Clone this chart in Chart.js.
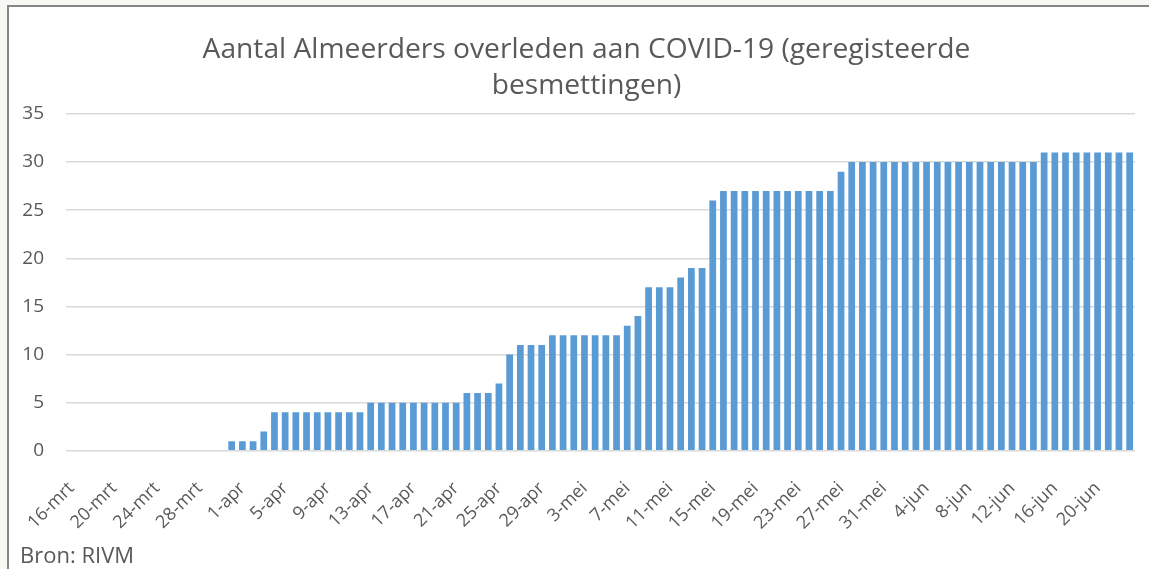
<!DOCTYPE html>
<html>
<head>
<meta charset="utf-8">
<script src="https://cdn.jsdelivr.net/npm/chart.js@4.4.1/dist/chart.umd.min.js"></script>
<style>
  html, body { margin: 0; padding: 0; background: #f7f8f4; overflow: hidden; }
  #frame {
    position: absolute; left: 7px; top: 5px; width: 1142px; height: 564px;
    border-top: 2px solid #848484; border-left: 2px solid #848484;
    background: #ffffff; overflow: hidden;
  }
  #chart { display: block; }
</style>
</head>
<body>
<div id="frame"><canvas id="chart" width="1158" height="562"></canvas></div>
<script>
// dates, one bar per day
const days = [
  '16-mrt','17-mrt','18-mrt','19-mrt','20-mrt','21-mrt','22-mrt','23-mrt','24-mrt','25-mrt','26-mrt','27-mrt','28-mrt','29-mrt','30-mrt','31-mrt',
  '1-apr','2-apr','3-apr','4-apr','5-apr','6-apr','7-apr','8-apr','9-apr','10-apr','11-apr','12-apr','13-apr','14-apr','15-apr',
  '16-apr','17-apr','18-apr','19-apr','20-apr','21-apr','22-apr','23-apr','24-apr','25-apr','26-apr','27-apr','28-apr','29-apr','30-apr',
  '1-mei','2-mei','3-mei','4-mei','5-mei','6-mei','7-mei','8-mei','9-mei','10-mei','11-mei','12-mei','13-mei','14-mei','15-mei','16-mei',
  '17-mei','18-mei','19-mei','20-mei','21-mei','22-mei','23-mei','24-mei','25-mei','26-mei','27-mei','28-mei','29-mei','30-mei','31-mei',
  '1-jun','2-jun','3-jun','4-jun','5-jun','6-jun','7-jun','8-jun','9-jun','10-jun','11-jun','12-jun','13-jun','14-jun','15-jun','16-jun',
  '17-jun','18-jun','19-jun','20-jun','21-jun','22-jun','23-jun'
];

// cumulative deaths
const deaths = [
  0, 0, 0, 0, 0, 0, 0, 0, 0, 0, 0, 0, 0, 0, 0, 1,
  1, 1, 2, 4, 4, 4, 4, 4, 4, 4, 4, 4, 5, 5, 5,
  5, 5, 5, 5, 5, 5, 6, 6, 6, 7, 10, 11, 11, 11, 12,
  12, 12, 12, 12, 12, 12, 13, 14, 17, 17, 17, 18, 19, 19, 26, 27,
  27, 27, 27, 27, 27, 27, 27, 27, 27, 27, 29, 30, 30, 30, 30,
  30, 30, 30, 30, 30, 30, 30, 30, 30, 30, 30, 30, 30, 30, 31, 31,
  31, 31, 31, 31, 31, 31, 31
];

const titleLines = ['Aantal Almeerders overleden aan COVID-19 (geregisteerde', 'besmettingen)'];
const sourceText = 'Bron: RIVM';
const labelEvery = 4;

const textColor = '#595959';
const fontFamily = "'Open Sans', 'Noto Sans', sans-serif";

const ctx = document.getElementById('chart').getContext('2d');

new Chart(ctx, {
  type: 'bar',
  data: {
    labels: days,
    datasets: [{
      label: 'Overleden',
      data: deaths,
      backgroundColor: '#5b9bd5',
      borderWidth: 0,
      barPercentage: 0.63,
      categoryPercentage: 1.0
    }]
  },
  options: {
    responsive: false,
    animation: false,
    layout: {
      padding: { left: 11, right: 14, top: 0, bottom: 0 }
    },
    plugins: {
      legend: { display: false },
      tooltip: { enabled: false },
      title: {
        display: true,
        text: titleLines,
        color: textColor,
        font: { family: fontFamily, size: 28.2, weight: 'normal', lineHeight: 1.31 },
        padding: { top: 24, bottom: 9 }
      },
      subtitle: {
        display: true,
        text: sourceText,
        position: 'bottom',
        align: 'start',
        color: textColor,
        font: { family: fontFamily, size: 22, weight: 'normal', lineHeight: 1.1 },
        padding: { top: 0, bottom: 0 }
      }
    },
    scales: {
      x: {
        grid: { display: false },
        border: { display: false },
        ticks: {
          autoSkip: false,
          maxRotation: 45,
          minRotation: 45,
          padding: 19,
          color: textColor,
          font: { family: fontFamily, size: 18 },
          callback: function (value, index) {
            return index % labelEvery === 0 ? days[index] : '';
          }
        },
        afterFit: function (scale) {
          scale.height = 94;
          scale.paddingLeft = 0;
          scale.paddingRight = 0;
        }
      },
      y: {
        min: 0,
        max: 35,
        grid: { color: '#d9d9d9', lineWidth: 1.5, drawTicks: false },
        border: { display: false },
        ticks: {
          stepSize: 5,
          padding: 22,
          color: textColor,
          font: { family: fontFamily, size: 19 }
        },
        afterFit: function (scale) { scale.width = 46; }
      },
      // empty strip on the right: the original picture is cut off there
      yRight: {
        position: 'right',
        min: 0,
        max: 35,
        grid: { display: false },
        border: { display: false },
        ticks: { display: false },
        afterFit: function (scale) { scale.width = 18; }
      }
    }
  }
});
</script>
</body>
</html>
